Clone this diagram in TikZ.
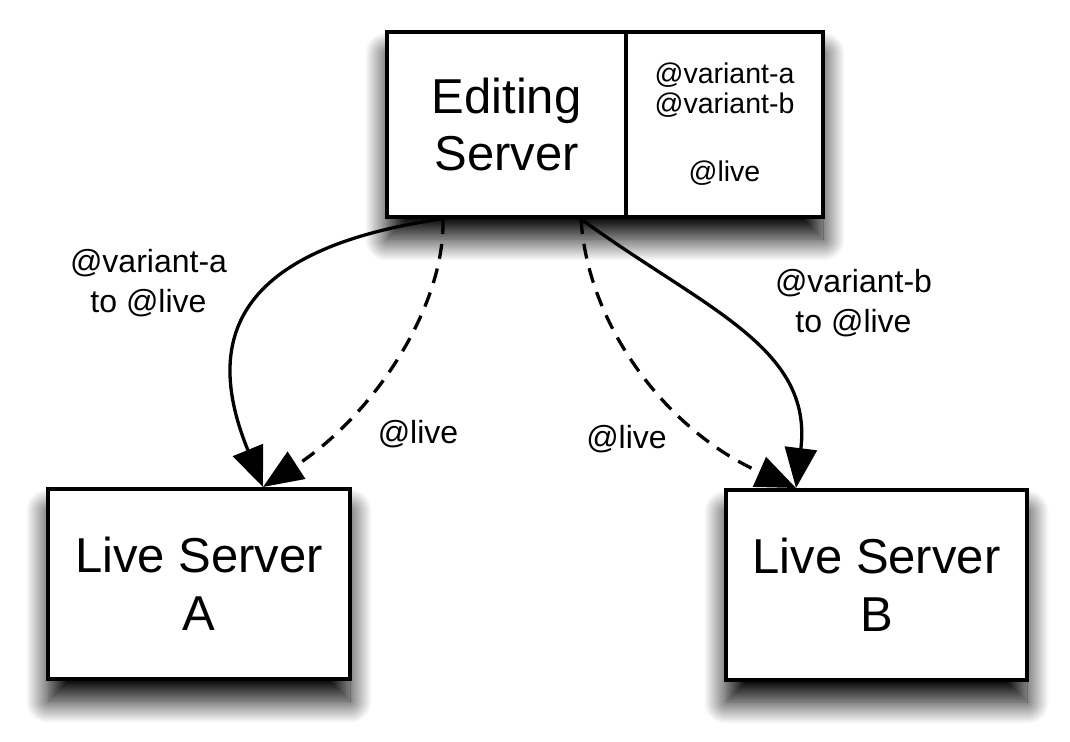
\documentclass[tikz,border=0pt]{standalone}
\usepackage{fontspec}
\setmainfont{Liberation Sans}
\usetikzlibrary{arrows.meta,shadows.blur}
\newcommand\bigtxt{\fontsize{49}{57}\selectfont}
\newcommand\tagtxt{\fontsize{28.5}{30}\selectfont}
\newcommand\labtxt{\fontsize{32}{40}\selectfont}
\begin{document}
\begin{tikzpicture}[x=1pt,y=-1pt,
  box/.style={draw, line width=4pt, fill=white, inner sep=0pt, align=center},
  shadowed/.style={blur shadow={shadow xshift=0pt, shadow yshift=-22pt, shadow blur radius=22pt, shadow blur steps=25, shadow opacity=100}},
  cell/.style={draw, line width=4pt, inner sep=0pt, align=center},
  conn/.style={line width=3.3pt, -{Triangle[length=40pt,width=32pt]}},
  dashconn/.style={conn, dash pattern=on 15pt off 10pt},
  lab/.style={align=center, inner sep=0pt, font=\labtxt}]
\useasboundingbox (0,0) rectangle (1070,741);

% Editing server (two compartments)
\node[box, shadowed, minimum width=436pt, minimum height=185pt] (editbox) at (605,124.5) {};
\node[cell, minimum width=239pt, minimum height=185pt, font=\bigtxt] (es) at (506.5,124.5) {Editing\\Server};
\node[cell, minimum width=197pt, minimum height=185pt, font=\tagtxt] (tags) at (724.5,124.5) {@variant-a\\@variant-b\\[38pt]@live};

% Live servers
\node[box, shadowed, minimum width=302pt, minimum height=190pt, font=\fontsize{49}{58}\selectfont] (liveA) at (199,584) {Live Server\\A};
\node[box, shadowed, minimum width=301pt, minimum height=190pt, font=\fontsize{49}{58}\selectfont] (liveB) at (876.5,585) {Live Server\\B};

% Connectors to A
\draw[conn] ([xshift=56pt]editbox.south west) .. controls (223,251) and (206.5,349) .. ([xshift=217pt]liveA.north west);
\draw[dashconn] ([xshift=58pt]editbox.south west) .. controls (445,308) and (373,415.5) .. ([xshift=217pt]liveA.north west);

% Connectors to B
\draw[conn] ([xshift=196pt]editbox.south west) .. controls (703,308) and (813.4,347) .. ([xshift=72pt]liveB.north west);
\draw[dashconn] ([xshift=196pt]editbox.south west) .. controls (588,328) and (669,432) .. ([xshift=72pt]liveB.north west);

% Labels
\node[lab] (labA) at (148.5,283.5) {@variant-a\\to @live};
\node[lab] (labB) at (853.5,303.5) {@variant-b\\to @live};
\node[lab, anchor=base] (liveLabA) at (418,443) {@live};
\node[lab, anchor=base] (liveLabB) at (626.5,448) {@live};
\end{tikzpicture}
\end{document}
